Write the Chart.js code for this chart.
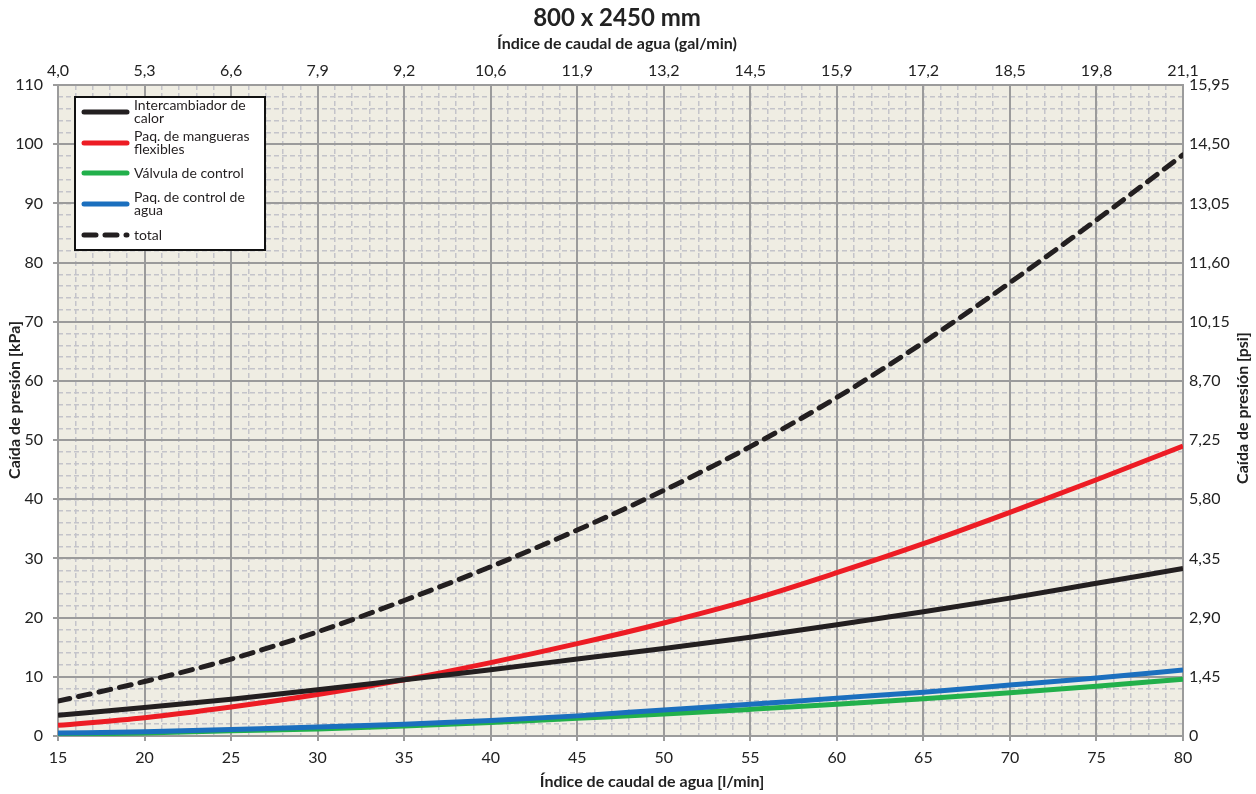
<!DOCTYPE html>
<html>
<head>
<meta charset="utf-8">
<script src="https://cdn.jsdelivr.net/npm/chart.js@4/dist/chart.umd.min.js"></script>
<style>
  body { margin: 0; background: #ffffff; }
  #wrap { width: 1256px; height: 794px; position: relative; }
</style>
</head>
<body>
<div id="wrap"><canvas id="grafico"></canvas></div>
<script>
// caudal en l/min
const caudal = [15, 20, 25, 30, 35, 40, 45, 50, 55, 60, 65, 70, 75, 80];

// caídas de presión en kPa
const intercambiador = [3.5, 4.8, 6.2, 7.8, 9.5, 11.2, 13.0, 14.8, 16.7, 18.8, 21.0, 23.3, 25.8, 28.3];
const mangueras = [1.8, 3.1, 4.9, 7.0, 9.5, 12.4, 15.6, 19.1, 23.0, 27.6, 32.5, 37.8, 43.3, 49.0];
const valvula = [0.3, 0.5, 0.9, 1.2, 1.7, 2.3, 3.0, 3.7, 4.5, 5.35, 6.3, 7.3, 8.4, 9.6];
const controlAgua = [0.5, 0.7, 1.1, 1.5, 2.0, 2.6, 3.4, 4.4, 5.35, 6.4, 7.4, 8.6, 9.8, 11.15];
const total = [5.9, 9.2, 13.0, 17.6, 22.9, 28.6, 34.8, 41.5, 48.9, 57.2, 66.5, 76.6, 87.2, 98.2];

// etiquetas de los ejes secundarios
const galLabels = ['4,0', '5,3', '6,6', '7,9', '9,2', '10,6', '11,9', '13,2', '14,5', '15,9', '17,2', '18,5', '19,8', '21,1'];
const psiLabels = ['0', '1,45', '2,90', '4,35', '5,80', '7,25', '8,70', '10,15', '11,60', '13,05', '14,50', '15,95'];

const legendLabels = [
  ['Intercambiador de', 'calor'],
  ['Paq. de mangueras', 'flexibles'],
  ['Válvula de control'],
  ['Paq. de control de', 'agua'],
  ['total']
];

const FONT = 'Lato, "Open Sans", sans-serif';
const TEXT = '#222222';
const GRID_MAJOR = '#9b9b9b';
const GRID_MINOR = '#c4c4ca';

function puntos(ys) {
  return caudal.map((x, i) => ({ x: x, y: ys[i] }));
}

// fondo del área del gráfico
const fondoPlugin = {
  id: 'fondo',
  beforeDraw(chart) {
    const a = chart.chartArea;
    const ctx = chart.ctx;
    ctx.save();
    ctx.fillStyle = '#efede3';
    ctx.fillRect(a.left, a.top, a.right - a.left, a.bottom - a.top);
    ctx.restore();
  }
};

// títulos (el espacio lo reservan los ejes con afterFit)
const textosPlugin = {
  id: 'textos',
  afterDraw(chart) {
    const ctx = chart.ctx;
    ctx.save();
    ctx.fillStyle = TEXT;
    ctx.textAlign = 'center';
    ctx.textBaseline = 'middle';
    ctx.font = 'bold 24px ' + FONT;
    ctx.fillText('800 x 2450 mm', 617, 18);
    ctx.font = 'bold 16px ' + FONT;
    ctx.fillText('Índice de caudal de agua (gal/min)', 617, 44);
    ctx.fillText('Índice de caudal de agua [l/min]', 652, 782);
    ctx.save();
    ctx.translate(15, 400);
    ctx.rotate(-Math.PI / 2);
    ctx.fillText('Caída de presión [kPa]', 0, 0);
    ctx.restore();
    ctx.translate(1243, 408);
    ctx.rotate(-Math.PI / 2);
    ctx.fillText('Caída de presión [psi]', 0, 0);
    ctx.restore();
  }
};

// leyenda con etiquetas de dos líneas
const leyendaPlugin = {
  id: 'leyenda',
  afterDraw(chart) {
    const ctx = chart.ctx;
    const bx = 75, by = 97, bw = 190, bh = 153;
    ctx.save();
    ctx.fillStyle = '#ffffff';
    ctx.fillRect(bx, by, bw, bh);
    ctx.strokeStyle = '#111111';
    ctx.lineWidth = 2;
    ctx.strokeRect(bx, by, bw, bh);
    const filas = [112, 143, 173, 204, 235];
    chart.data.datasets.forEach((ds, i) => {
      const y = filas[i];
      ctx.beginPath();
      ctx.strokeStyle = ds.borderColor;
      ctx.lineWidth = 5;
      ctx.lineCap = 'round';
      ctx.setLineDash(ds.borderDash || []);
      ctx.moveTo(84, y);
      ctx.lineTo(127, y);
      ctx.stroke();
      ctx.setLineDash([]);
      ctx.fillStyle = '#231f20';
      ctx.font = '14px ' + FONT;
      ctx.textAlign = 'left';
      ctx.textBaseline = 'middle';
      const lineas = legendLabels[i];
      const y0 = y - (lineas.length - 1) * 6.5;
      lineas.forEach((t, j) => ctx.fillText(t, 134, y0 + j * 12.5));
    });
    ctx.restore();
  }
};

const serie = (label, data, color, orden, dash) => ({
  label: label,
  data: puntos(data),
  borderColor: color,
  backgroundColor: color,
  borderWidth: 5,
  borderDash: dash,
  borderCapStyle: dash ? 'round' : 'butt',
  pointRadius: 0,
  cubicInterpolationMode: 'monotone',
  order: orden,
  xAxisID: 'x',
  yAxisID: 'y'
});

const tamano = (prop, valor) => (scale) => { scale[prop] = valor; };

const ctx = document.getElementById('grafico').getContext('2d');
new Chart(ctx, {
  type: 'line',
  data: {
    datasets: [
      serie('Intercambiador de calor', intercambiador, '#231f20', 1),
      serie('Paq. de mangueras flexibles', mangueras, '#ed1c24', 2),
      serie('Válvula de control', valvula, '#22b04b', 4),
      serie('Paq. de control de agua', controlAgua, '#1b6fbe', 3),
      serie('total', total, '#231f20', 0, [12, 9])
    ]
  },
  plugins: [fondoPlugin, leyendaPlugin, textosPlugin],
  options: {
    responsive: true,
    maintainAspectRatio: false,
    animation: false,
    layout: { padding: 0 },
    plugins: {
      legend: { display: false },
      tooltip: { enabled: false },
      title: { display: false }
    },
    scales: {
      // rejilla secundaria (discontinua)
      xMinor: {
        type: 'linear', position: 'bottom', min: 15, max: 80,
        ticks: { display: false, stepSize: 1 },
        grid: { color: GRID_MINOR, lineWidth: 1.5, drawTicks: false },
        border: { display: false, dash: [5, 3] },
        afterFit: tamano('height', 0)
      },
      yMinor: {
        type: 'linear', position: 'left', min: 0, max: 110,
        ticks: { display: false, stepSize: 2 },
        grid: { color: GRID_MINOR, lineWidth: 1.5, drawTicks: false },
        border: { display: false, dash: [5, 3] },
        afterFit: tamano('width', 0)
      },
      x: {
        type: 'linear', position: 'bottom', min: 15, max: 80,
        ticks: { stepSize: 5, color: TEXT, font: { family: FONT, size: 16 }, padding: 7 },
        grid: { color: GRID_MAJOR, lineWidth: 2, tickLength: 5, tickColor: GRID_MAJOR },
        border: { color: GRID_MAJOR, width: 2 },
        afterFit: tamano('height', 58)
      },
      x2: {
        type: 'linear', position: 'top', min: 15, max: 80,
        ticks: {
          stepSize: 5, color: TEXT, font: { family: FONT, size: 16 }, padding: 5,
          callback: (v) => galLabels[Math.round((v - 15) / 5)]
        },
        grid: { drawOnChartArea: false, color: GRID_MAJOR, lineWidth: 2, tickLength: 0 },
        border: { color: GRID_MAJOR, width: 2 },
        afterFit: tamano('height', 85)
      },
      y: {
        type: 'linear', position: 'left', min: 0, max: 110,
        ticks: { stepSize: 10, color: TEXT, font: { family: FONT, size: 16 }, padding: 10 },
        grid: { color: GRID_MAJOR, lineWidth: 2, tickLength: 5, tickColor: GRID_MAJOR },
        border: { color: GRID_MAJOR, width: 2 },
        afterFit: tamano('width', 58)
      },
      y2: {
        type: 'linear', position: 'right', min: 0, max: 110,
        ticks: {
          stepSize: 10, color: TEXT, font: { family: FONT, size: 16 }, padding: 6,
          callback: (v) => psiLabels[Math.round(v / 10)]
        },
        grid: { drawOnChartArea: false, color: GRID_MAJOR, lineWidth: 2, tickLength: 0 },
        border: { color: GRID_MAJOR, width: 2 },
        afterFit: tamano('width', 73)
      }
    }
  }
});
</script>
</body>
</html>
